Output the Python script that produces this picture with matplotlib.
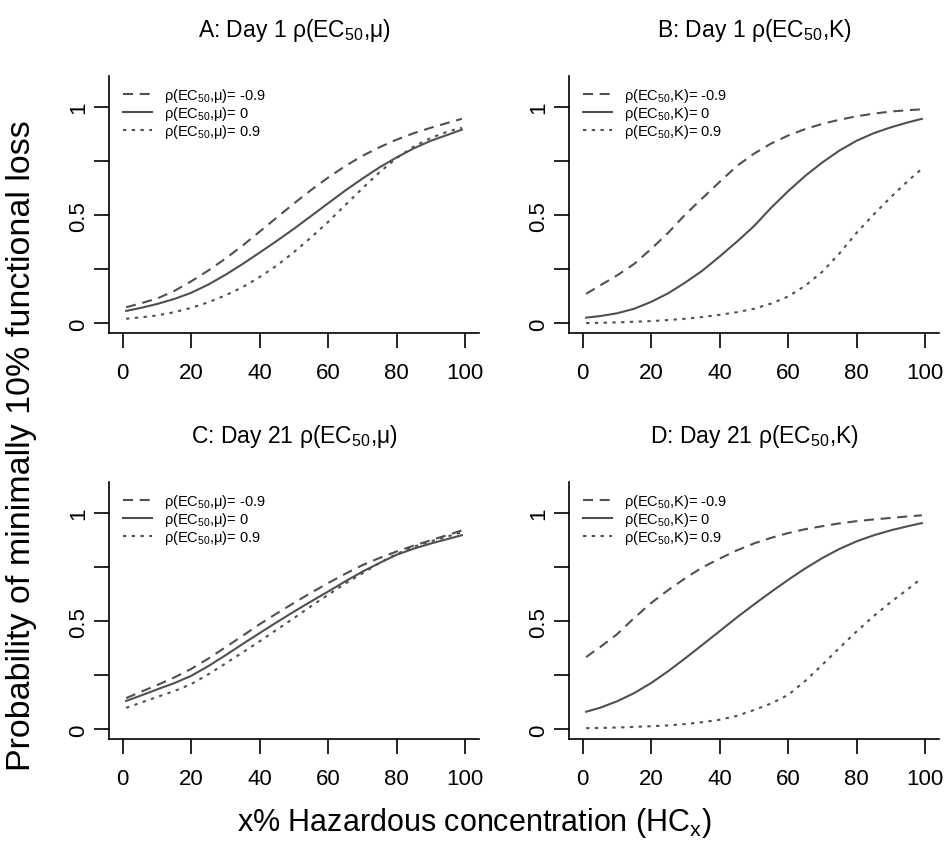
import numpy as np
import matplotlib
matplotlib.use("Agg")
import matplotlib.pyplot as plt

plt.rcParams['font.family'] = ['Liberation Sans', 'DejaVu Sans']
plt.rcParams['mathtext.fontset'] = 'custom'
plt.rcParams['mathtext.rm'] = 'Liberation Sans'
plt.rcParams['mathtext.it'] = 'Liberation Sans:italic'

# x% hazardous concentration where curves were read
hc_x = [1, 5, 10, 15, 20, 25, 30, 35, 40, 45, 50, 55, 60, 65, 70, 75, 80, 85, 90, 95, 99]

# Panel A: Day 1, rho(EC50, mu)
a_neg = [0.075, 0.092, 0.115, 0.150, 0.195, 0.245, 0.300, 0.360, 0.425, 0.490, 0.555,
         0.617, 0.675, 0.728, 0.775, 0.815, 0.850, 0.880, 0.905, 0.928, 0.946]
a_zero = [0.058, 0.071, 0.090, 0.113, 0.142, 0.180, 0.225, 0.275, 0.328, 0.382, 0.438,
          0.497, 0.556, 0.615, 0.670, 0.722, 0.768, 0.810, 0.845, 0.873, 0.896]
a_pos = [0.022, 0.028, 0.037, 0.052, 0.072, 0.098, 0.130, 0.168, 0.215, 0.268, 0.330,
         0.398, 0.470, 0.548, 0.625, 0.700, 0.765, 0.818, 0.858, 0.888, 0.905]

# Panel B: Day 1, rho(EC50, K)
b_neg = [0.137, 0.175, 0.222, 0.275, 0.345, 0.420, 0.505, 0.580, 0.655, 0.728, 0.785,
         0.832, 0.869, 0.899, 0.923, 0.942, 0.958, 0.970, 0.980, 0.986, 0.990]
b_zero = [0.027, 0.034, 0.047, 0.068, 0.100, 0.140, 0.190, 0.245, 0.310, 0.378, 0.450,
          0.535, 0.612, 0.683, 0.745, 0.800, 0.845, 0.880, 0.907, 0.930, 0.946]
b_pos = [0.002, 0.003, 0.005, 0.008, 0.011, 0.016, 0.022, 0.030, 0.040, 0.052, 0.068,
         0.092, 0.125, 0.175, 0.240, 0.325, 0.420, 0.505, 0.585, 0.660, 0.715]

# Panel C: Day 21, rho(EC50, mu)
c_neg = [0.145, 0.172, 0.205, 0.240, 0.280, 0.328, 0.380, 0.433, 0.487, 0.537, 0.585,
         0.632, 0.677, 0.720, 0.760, 0.793, 0.823, 0.850, 0.875, 0.900, 0.920]
c_zero = [0.132, 0.155, 0.185, 0.214, 0.248, 0.293, 0.343, 0.395, 0.446, 0.496, 0.545,
          0.592, 0.638, 0.685, 0.730, 0.770, 0.808, 0.836, 0.860, 0.881, 0.898]
c_pos = [0.100, 0.122, 0.150, 0.177, 0.210, 0.255, 0.305, 0.356, 0.408, 0.462, 0.515,
         0.570, 0.623, 0.675, 0.722, 0.770, 0.812, 0.845, 0.870, 0.893, 0.912]

# Panel D: Day 21, rho(EC50, K)
d_neg = [0.335, 0.380, 0.440, 0.515, 0.585, 0.645, 0.700, 0.750, 0.790, 0.828, 0.860,
         0.886, 0.908, 0.926, 0.940, 0.953, 0.963, 0.971, 0.978, 0.985, 0.990]
d_zero = [0.082, 0.100, 0.130, 0.168, 0.215, 0.270, 0.330, 0.392, 0.455, 0.518, 0.578,
          0.636, 0.692, 0.745, 0.793, 0.835, 0.870, 0.898, 0.921, 0.940, 0.954]
d_pos = [0.006, 0.007, 0.009, 0.012, 0.015, 0.019, 0.025, 0.034, 0.045, 0.063, 0.090,
         0.120, 0.160, 0.225, 0.300, 0.378, 0.454, 0.525, 0.590, 0.650, 0.700]

titles = [r"A: Day 1 ρ(EC$_{50}$,μ)", r"B: Day 1 ρ(EC$_{50}$,K)",
          r"C: Day 21 ρ(EC$_{50}$,μ)", r"D: Day 21 ρ(EC$_{50}$,K)"]
rho_levels = ["-0.9", "0", "0.9"]
xticks = [0, 20, 40, 60, 80, 100]
yticks = [0, 0.25, 0.5, 0.75, 1]
yticklabels = ["0", "", "0.5", "", "1"]

panels = [(a_neg, a_zero, a_pos, "μ"), (b_neg, b_zero, b_pos, "K"),
          (c_neg, c_zero, c_pos, "μ"), (d_neg, d_zero, d_pos, "K")]

LINE = "#505050"
styles = [(0, (4.8, 3.2)), "-", (0, (1.6, 2.6))]

W, H = 946, 853
fig = plt.figure(figsize=(W / 100, H / 100), dpi=100)
lefts = [109, 569]
tops = [77, 483]
aw, ah = 370, 257

for i, (neg, zero, pos, par) in enumerate(panels):
    r, c = divmod(i, 2)
    ax = fig.add_axes([lefts[c] / W, 1 - (tops[r] + ah) / H, aw / W, ah / H])
    for vals, ls, lev in zip([neg, zero, pos], styles, rho_levels):
        ax.plot(hc_x, vals, color=LINE, lw=1.5, linestyle=ls,
                label=f"ρ(EC$_{{50}}$,{par})= {lev}")
    ax.set_xlim(-4, 104)
    ax.set_ylim(-0.044, 1.144)
    ax.set_xticks(xticks)
    ax.set_yticks(yticks)
    ax.set_yticklabels(yticklabels, rotation=90, va="center")
    ax.tick_params(axis="both", length=11, width=1.2, labelsize=16, direction="out")
    ax.tick_params(axis="x", pad=10)
    ax.tick_params(axis="y", pad=3)
    for s in ["top", "right"]:
        ax.spines[s].set_visible(False)
    for s in ["left", "bottom"]:
        ax.spines[s].set_linewidth(1.2)
    ax.set_title(titles[i], fontsize=16.5, pad=29)
    ax.legend(loc="upper left", bbox_to_anchor=(0.011, 1.0), frameon=False,
              fontsize=10.5, handlelength=2.0, handletextpad=0.8, labelspacing=0.0,
              borderaxespad=0.5, borderpad=0.2)

fig.text(22 / W, 1 - 446 / H, "Probability of minimally 10% functional loss",
         rotation=90, ha="center", va="center", fontsize=24.5)
fig.text(474 / W, 1 - 823 / H, r"x% Hazardous concentration (HC$_{\mathrm{x}}$)",
         ha="center", va="center", fontsize=22)

fig.savefig("out.png", dpi=100)
